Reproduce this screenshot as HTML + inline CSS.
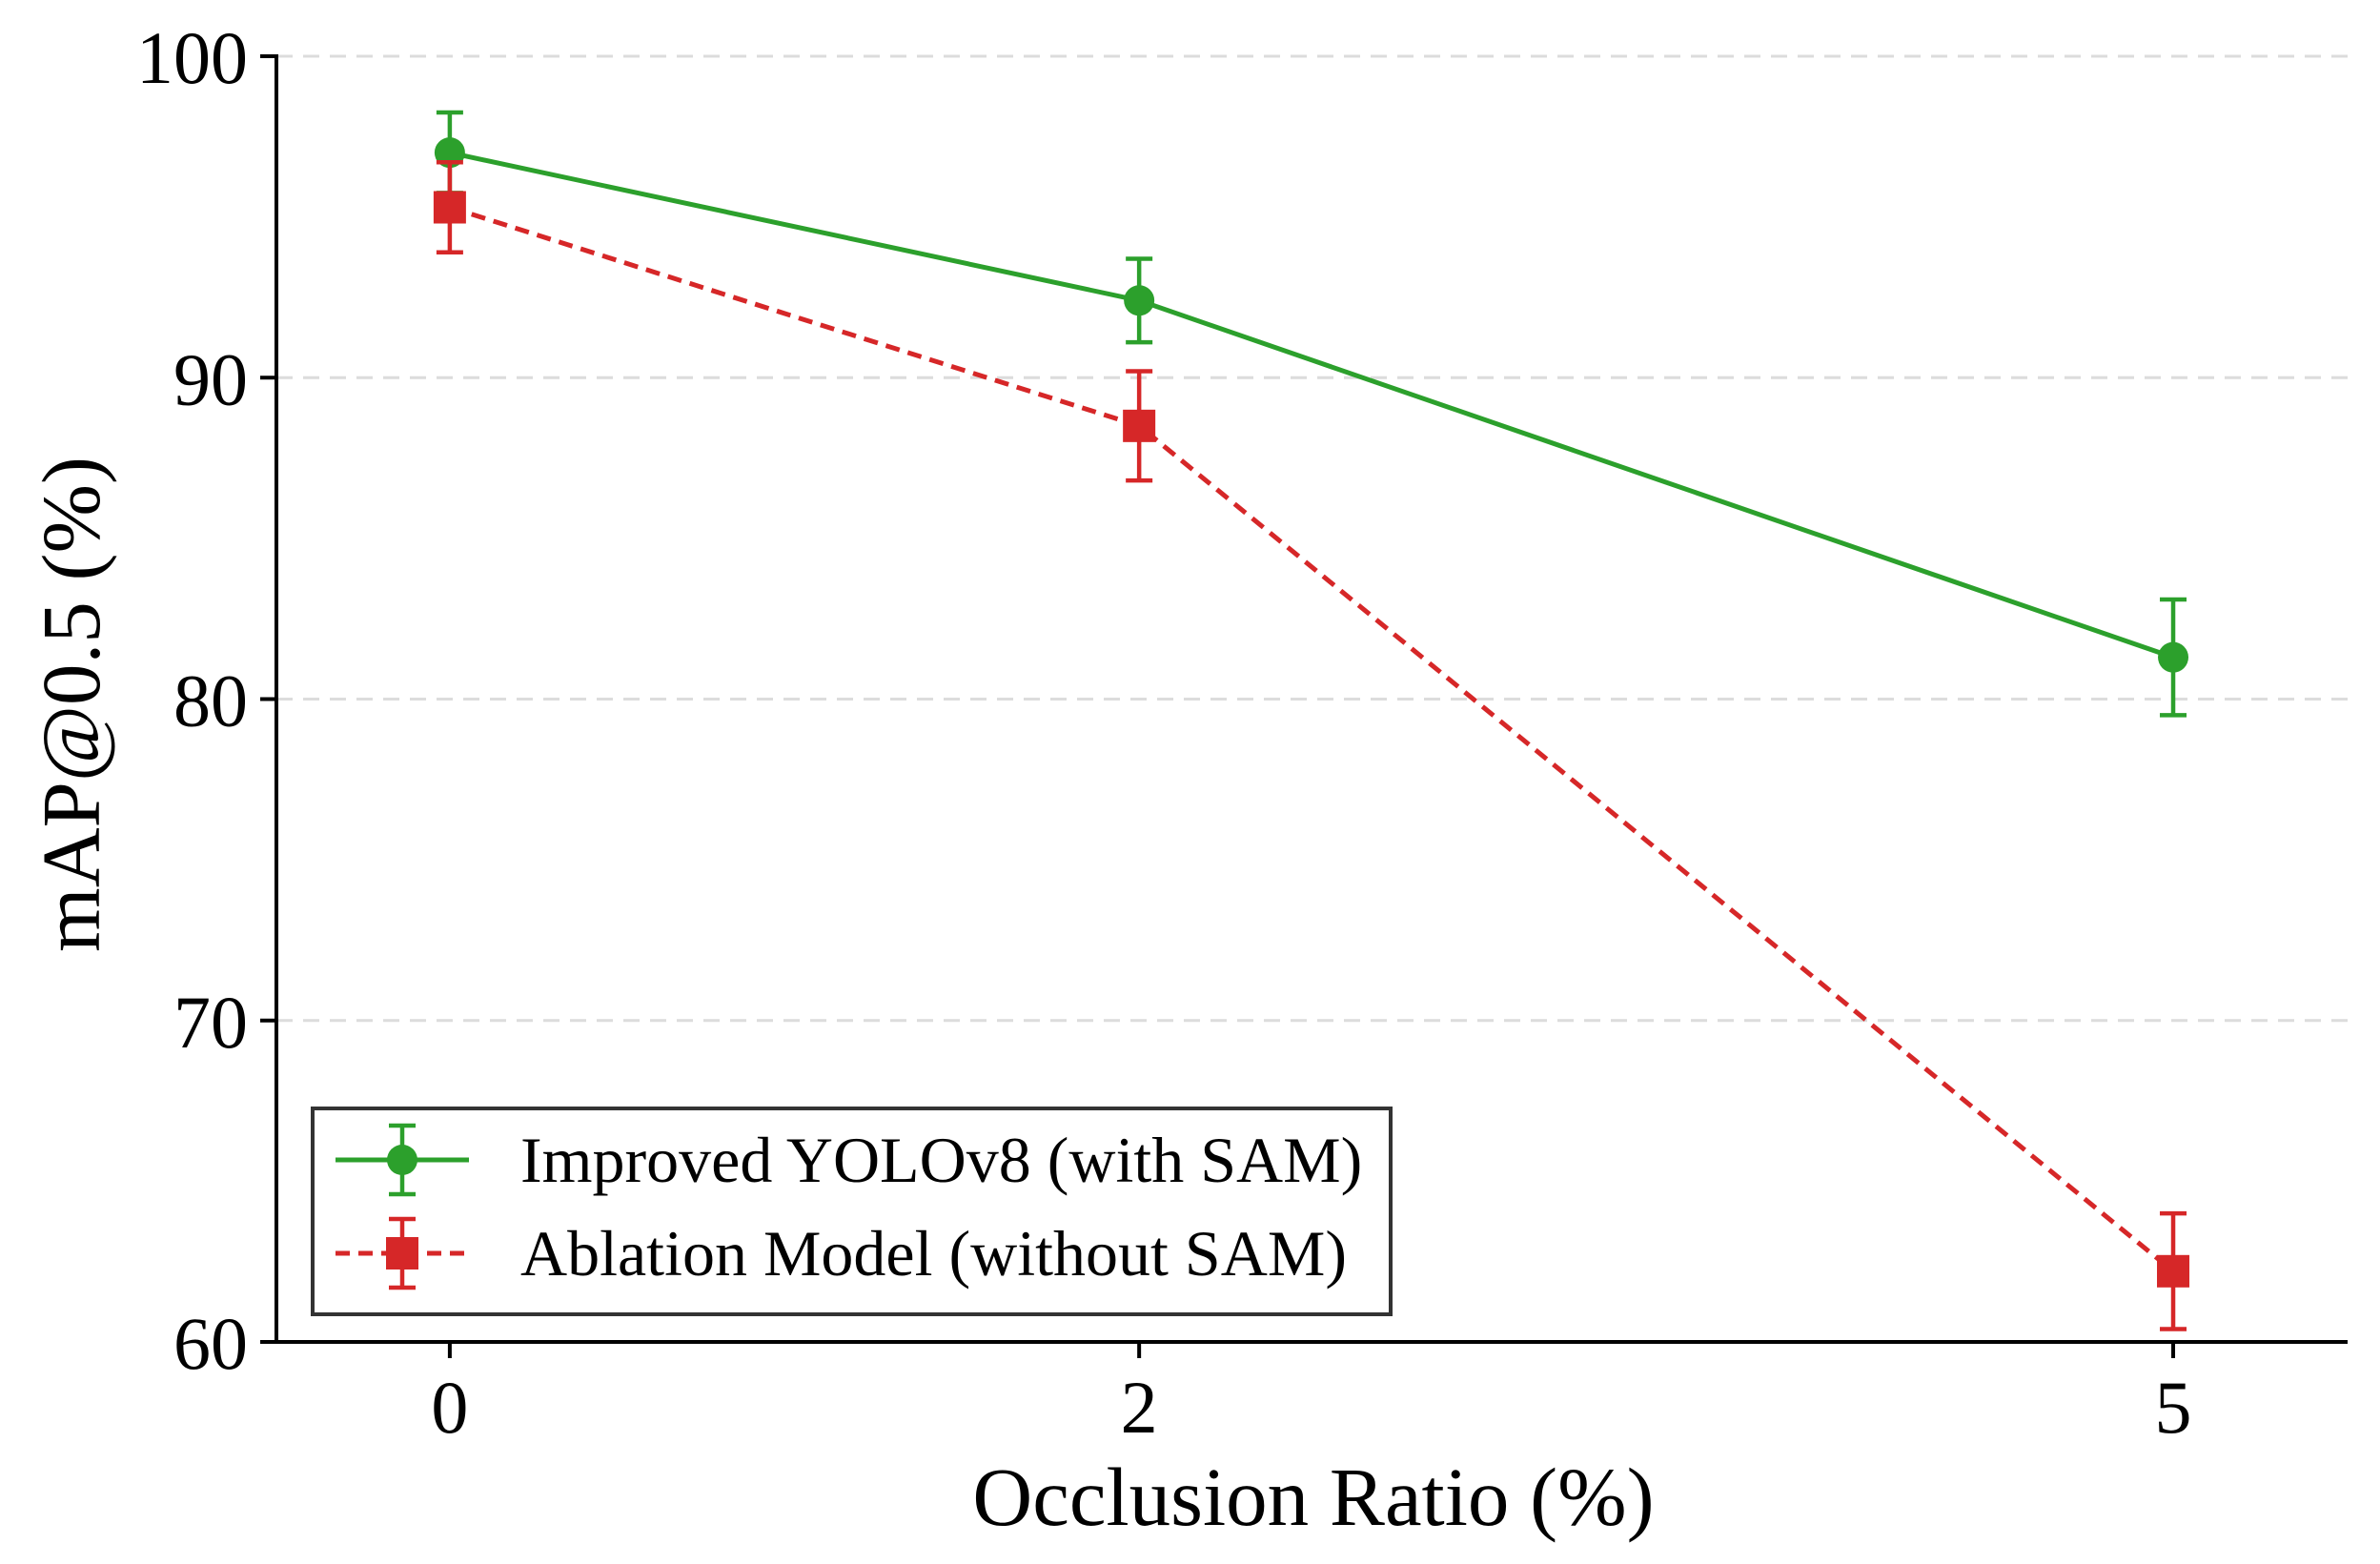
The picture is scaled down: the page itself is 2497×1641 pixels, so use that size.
<!DOCTYPE html>
<html><head><meta charset="utf-8"><style>
html,body{margin:0;padding:0;background:#fff;}
svg{display:block;}
text{font-family:"Liberation Serif",serif;fill:#000;}
</style></head><body>
<svg id="chart" width="2497" height="1641" viewBox="0 0 2497 1641" xmlns="http://www.w3.org/2000/svg"></svg>
<script>
const categories = [0, 2, 5];
const improvedValues = [97.0, 92.4, 81.3];
const improvedErrors = [1.25, 1.3, 1.8];
const ablationValues = [95.3, 88.5, 62.2];
const ablationErrors = [1.4, 1.7, 1.8];
const yTicks = [60, 70, 80, 90, 100];
const xTicks = [0, 2, 5];

const NS = "http://www.w3.org/2000/svg";
const svg = document.getElementById('chart');
const X0 = 290, X1 = 2463, Y0 = 59, Y1 = 1408;
const xMin = -0.503, xMax = 5.506, yMin = 60, yMax = 100;
function xs(v){ return X0 + (v - xMin) / (xMax - xMin) * (X1 - X0); }
function ys(v){ return Y1 - (v - yMin) / (yMax - yMin) * (Y1 - Y0); }
function mk(tag, attrs, parent){
  const e = document.createElementNS(NS, tag);
  for (const k in attrs) e.setAttribute(k, attrs[k]);
  (parent || svg).appendChild(e);
  return e;
}

yTicks.forEach(t => {
  if (t === 60) return;
  const g = mk('line', {x1: X0, x2: X1, y1: ys(t), y2: ys(t), stroke: '#dcdcdc', 'stroke-width': 3, 'stroke-dasharray': '17 11'});
  
  
});

const ya = mk('line', {x1: X0, x2: X0, y1: Y0 - 2, y2: Y1 + 2, stroke: '#000', 'stroke-width': 4});


const xa = mk('line', {x1: X0 - 2, x2: X1, y1: Y1, y2: Y1, stroke: '#000', 'stroke-width': 4});



yTicks.forEach(t => {
  const tk = mk('line', {x1: X0 - 17, x2: X0, y1: ys(t), y2: ys(t), stroke: '#000', 'stroke-width': 4});
  
  
  const tl = mk('text', {x: X0 - 30, y: ys(t) + 28, 'text-anchor': 'end', 'font-size': 78});
  tl.textContent = t;
  
  
});
xTicks.forEach(t => {
  const tk = mk('line', {x1: xs(t), x2: xs(t), y1: Y1, y2: Y1 + 17, stroke: '#000', 'stroke-width': 4});
  
  
  const tl = mk('text', {x: xs(t), y: Y1 + 95, 'text-anchor': 'middle', 'font-size': 78});
  tl.textContent = t;
  
  
});

const xt = mk('text', {x: 1378, y: 1600, 'text-anchor': 'middle', 'font-size': 87});
xt.textContent = 'Occlusion Ratio (%)';


const yt = mk('text', {x: 0, y: 0, 'text-anchor': 'middle', 'font-size': 87, transform: 'translate(104,739) rotate(-90)'});
yt.textContent = 'mAP@0.5 (%)';



function series(vals, errs, color, dash, shape, name){
  const g = mk('g', {});
  
  
  const pts = categories.map((c, i) => xs(c) + ',' + ys(vals[i])).join(' ');
  const pl = mk('polyline', {points: pts, fill: 'none', stroke: color, 'stroke-width': 5, 'stroke-dasharray': dash}, g);
  
  
  categories.forEach((c, i) => {
    const x = xs(c), yTop = ys(vals[i] + errs[i]), yBot = ys(vals[i] - errs[i]);
    const eb = mk('path', {d: `M${x},${yTop}V${yBot}M${x-14},${yTop}H${x+14}M${x-14},${yBot}H${x+14}`, stroke: color, 'stroke-width': 4.5, fill: 'none'}, g);
    
    
    let m;
    if (shape === 'circle') m = mk('circle', {cx: x, cy: ys(vals[i]), r: 16, fill: color}, g);
    else m = mk('rect', {x: x - 17, y: ys(vals[i]) - 17, width: 34, height: 34, fill: color}, g);
    
    
  });
}
series(improvedValues, improvedErrors, '#2ca02c', 'none', 'circle', 'improved');
series(ablationValues, ablationErrors, '#d62728', '15 9', 'square', 'ablation');

const lg = mk('g', {});


const lb = mk('rect', {x: 328, y: 1163, width: 1131, height: 216, fill: '#fff', stroke: '#333', 'stroke-width': 4}, lg);


const entries = [
  {label: 'Improved YOLOv8 (with SAM)', color: '#2ca02c', dash: 'none', shape: 'circle', y: 1217},
  {label: 'Ablation Model (without SAM)', color: '#d62728', dash: '15 9', shape: 'square', y: 1315}
];
entries.forEach(en => {
  const g = mk('g', {}, lg);
  
  
  const cx = 422;
  mk('line', {x1: 352, x2: 492, y1: en.y, y2: en.y, stroke: en.color, 'stroke-width': 5, 'stroke-dasharray': en.dash}, g);
  mk('path', {d: `M${cx},${en.y-36}V${en.y+36}M${cx-14},${en.y-36}H${cx+14}M${cx-14},${en.y+36}H${cx+14}`, stroke: en.color, 'stroke-width': 4.5, fill: 'none'}, g);
  if (en.shape === 'circle') mk('circle', {cx: cx, cy: en.y, r: 16, fill: en.color}, g);
  else mk('rect', {x: cx - 17, y: en.y - 17, width: 34, height: 34, fill: en.color}, g);
  const t = mk('text', {x: 546, y: en.y + 23, 'font-size': 68}, g);
  t.textContent = en.label;
  
  
});
</script>
</body></html>
